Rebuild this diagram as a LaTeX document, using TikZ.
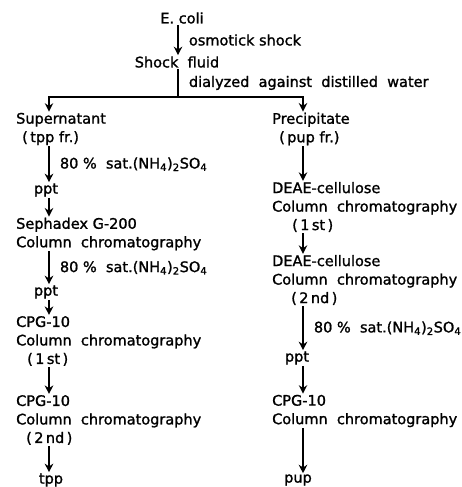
\documentclass[tikz,border=0pt]{standalone}
\usepackage{fontspec}
\setmainfont[FakeBold=1.3]{DejaVu Sans}
\usetikzlibrary{arrows.meta,positioning}
\tikzset{
  txt/.style={font=\fontsize{14.5}{18.5}\selectfont,align=left,inner sep=1pt,anchor=west},
  stp/.style={font=\fontsize{14.5}{18.5}\selectfont,inner sep=1pt},
  arr/.style={-{Stealth[length=8.5pt,width=8.5pt]},line width=1.9pt},
  ln/.style={line width=1.9pt},
  lbl/.style={right=9pt,font=\fontsize{14.5}{18.5}\selectfont,inner sep=1pt}}
\newcommand{\satsulf}{80~\%~~sat.(NH\textsubscript{4})\textsubscript{2}SO\textsubscript{4}}

\begin{document}
\begin{tikzpicture}[x=1pt,y=-1pt]
\useasboundingbox (0,0) rectangle (461,487);
\coordinate (lx) at (49,0);
\coordinate (rx) at (303,0);
\coordinate (split) at (178,97);
\node[stp] (ecoli) at (182,18) {E. coli};
\node[stp] (shock) at (177,62) {Shock~~fluid};
\node[txt] (sup) at (15,129) {Supernatant\\\hspace*{6pt}(\,tpp fr.)};
\node[stp] (ppta) at (46,190) {ppt};
\node[txt] (seph) at (15,234) {Sephadex G-200\\Column~~chromatography};
\node[stp] (pptb) at (46,292) {ppt};
\node[txt] (cpga) at (15,341) {CPG-10\\Column~~chromatography\\\hspace*{11pt}(\,1\,st\,)};
\node[txt] (cpgb) at (15,420) {CPG-10\\Column~~chromatography\\\hspace*{10pt}(\,2\,nd\,)};
\node[stp] (tpp) at (51,480) {tpp};
\node[txt] (prec) at (271,129) {Precipitate\\\hspace*{7pt}(\,pup fr.)};
\node[txt] (deaea) at (271,207) {DEAE-cellulose\\Column~~chromatography\\\hspace*{20pt}(\,1\,st\,)};
\node[txt] (deaeb) at (271,280) {DEAE-cellulose\\Column~~chromatography\\\hspace*{19pt}(\,2\,nd\,)};
\node[stp] (pptc) at (297,358) {ppt};
\node[txt] (cpgc) at (271,411) {CPG-10\\Column~~chromatography};
\node[stp] (pup) at (298,480) {pup};

\draw[arr] (ecoli.south -| split) -- node[lbl]{osmotick shock} (shock.north -| split);
\draw[ln] (shock.south -| split) -- node[lbl]{dialyzed~~against~~distilled~~water} (split);
\draw[arr] (split) -| (sup.north -| lx);
\draw[arr] (split) -| (prec.north -| rx);
\draw[arr] (sup.south -| lx) -- node[lbl]{\satsulf} (ppta.north -| lx);
\draw[arr] (ppta.south -| lx) -- (seph.north -| lx);
\draw[arr] (seph.south -| lx) -- node[lbl]{\satsulf} (pptb.north -| lx);
\draw[arr] (pptb.south -| lx) -- (cpga.north -| lx);
\draw[arr] (cpga.south -| lx) -- (cpgb.north -| lx);
\draw[arr] (cpgb.south -| lx) -- (tpp.north -| lx);
\draw[arr] (prec.south -| rx) -- (deaea.north -| rx);
\draw[arr] (deaea.south -| rx) -- (deaeb.north -| rx);
\draw[arr] (deaeb.south -| rx) -- node[lbl]{\satsulf} (pptc.north -| rx);
\draw[arr] (pptc.south -| rx) -- (cpgc.north -| rx);
\draw[arr] (cpgc.south -| rx) -- (pup.north -| rx);
\end{tikzpicture}
\end{document}
